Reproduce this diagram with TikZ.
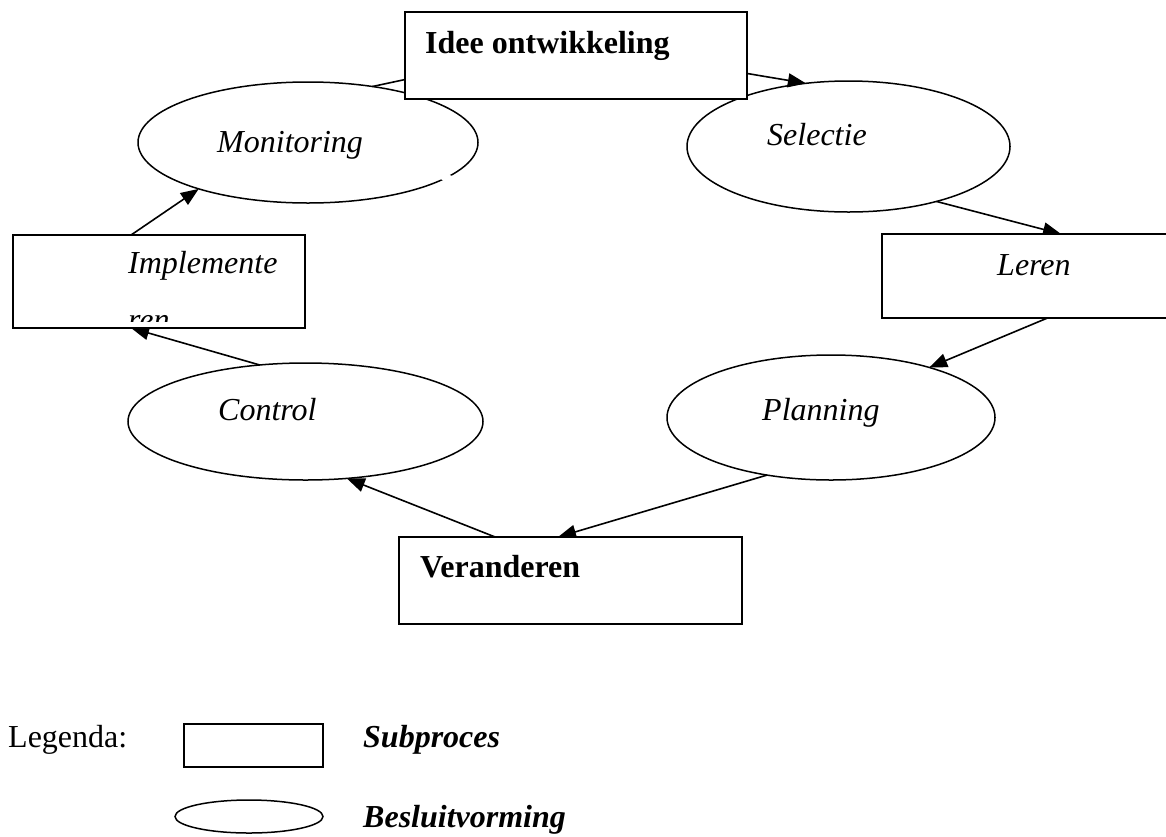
\documentclass[tikz,border=0pt]{standalone}
\usepackage{fontspec}
\setmainfont{Liberation Serif}
\usetikzlibrary{arrows.meta,shapes.geometric}
\pgfdeclarelayer{back}
\pgfsetlayers{back,main}
\begin{document}
\begin{tikzpicture}[x=1pt,y=-1pt,
  txt/.style={inner sep=0pt, anchor=base west, font=\fontsize{32}{38}\selectfont},
  subbox/.style={draw, rectangle, line width=1.8pt, fill=white, inner sep=0pt, outer sep=0pt},
  decision/.style={draw, ellipse, line width=1.5pt, inner sep=0pt, outer sep=0pt},
  flow/.style={line width=1.6pt, -{Triangle[length=18pt,width=14pt]}},
  plain/.style={line width=1.6pt},
]
\useasboundingbox (0,0) rectangle (1166,836);

% subprocess boxes
\node[subbox, minimum width=342pt, minimum height=87pt] (idee)  at (576,55.5) {};
\node[subbox, minimum width=292pt, minimum height=93pt] (impl)  at (159,281.5) {};
\node[subbox, minimum width=290pt, minimum height=84pt] (leren) at (1027,276) {};
\node[subbox, minimum width=343pt, minimum height=87pt] (ver)   at (570.5,580.5) {};

% decision ellipses, kept behind the boxes
\begin{pgfonlayer}{back}
\node[decision, minimum width=340pt, minimum height=121pt] (mon)  at (308,142.5) {};
\node[decision, minimum width=323pt, minimum height=131pt] (sel)  at (848.5,146.5) {};
\node[decision, minimum width=355pt, minimum height=117pt] (ctrl) at (305.5,421.5) {};
\node[decision, minimum width=328pt, minimum height=125pt] (plan) at (831,417.5) {};

% the cycle
\draw[plain] (mon.41) -- (idee.188.15);
\draw[flow] (idee.-6.17) -- (sel.124);
\draw[flow] (sel.-32.1) -- (leren.51.8);
\draw[flow] (leren.-64.5) -- (plan.27);
\draw[flow] (plan.222.4) -- (ver.106);
\draw[flow] (ver.150.7) -- (ctrl.-54.6);
\draw[flow] (ctrl.129.6) -- (impl.239.9);
\draw[flow] (impl.121.9) -- (mon.203.2);
\end{pgfonlayer}

% small break in the Monitoring outline
\fill[white, rotate around={-20:(447.5,178)}] (441,174.5) rectangle (454,181.5);

% labels
\node[txt, font=\fontsize{32}{38}\selectfont\bfseries] (idee-t) at (425,53) {Idee ontwikkeling};
\node[txt, font=\fontsize{32}{38}\selectfont\itshape] (mon-t) at (217,152) {Monitoring};
\node[txt, font=\fontsize{32}{38}\selectfont\itshape] (sel-t) at (767,145) {Selectie};
\node[txt, font=\fontsize{32}{38}\selectfont\itshape] (impl-t) at (128,273) {Implemente};
\begin{scope}
  \clip (14,236) rectangle (304,321);
  \node[txt, font=\fontsize{32}{38}\selectfont\itshape] (impl-t2) at (128,330) {ren};
\end{scope}
\node[txt, font=\fontsize{32}{38}\selectfont\itshape] (leren-t) at (997,275) {Leren};
\node[txt, font=\fontsize{32}{38}\selectfont\itshape] (ctrl-t) at (218,420) {Control};
\node[txt, font=\fontsize{32}{38}\selectfont\itshape] (plan-t) at (762,420) {Planning};
\node[txt, font=\fontsize{32}{38}\selectfont\bfseries] (ver-t) at (420,577) {Veranderen};

% legend
\node[txt] (leg-t) at (8,747) {Legenda:};
\node[subbox, minimum width=139pt, minimum height=43pt] (leg-box) at (253.5,745.5) {};
\node[decision, minimum width=148pt, minimum height=33pt] (leg-ell) at (249,816.5) {};
\node[txt, font=\fontsize{32}{38}\selectfont\bfseries\itshape] (leg-sub) at (363,747) {Subproces};
\node[txt, font=\fontsize{32}{38}\selectfont\bfseries\itshape] (leg-bes) at (363,827) {Besluitvorming};
\end{tikzpicture}
\end{document}
